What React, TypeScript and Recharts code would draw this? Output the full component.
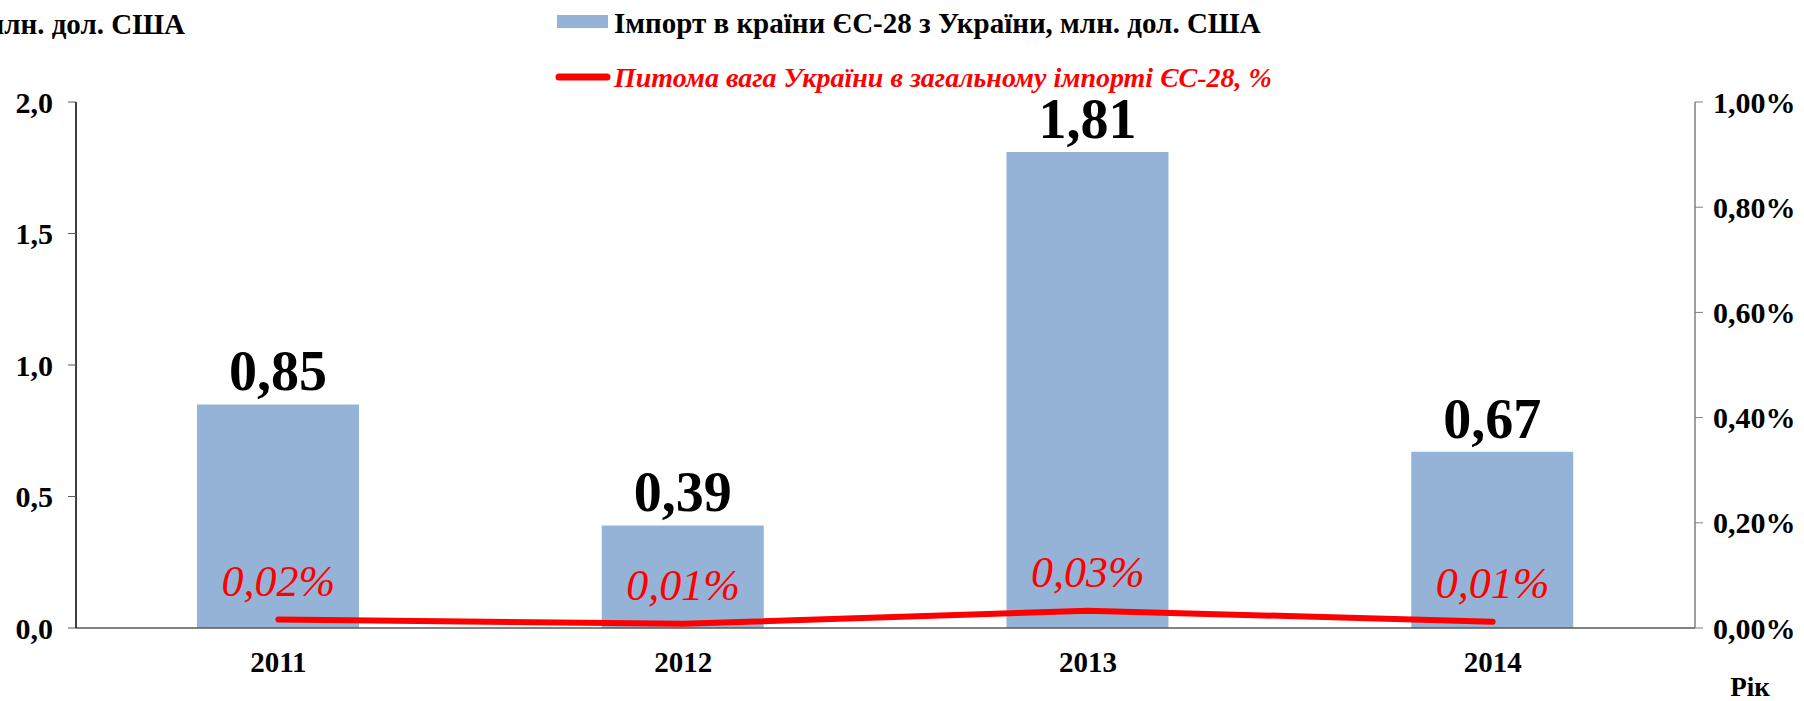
import React from "react";
import {
  Bar,
  ComposedChart,
  LabelList,
  Line,
  XAxis,
  YAxis,
} from "recharts";

// Data
const years = ["2011", "2012", "2013", "2014"];
const importValues = [0.85, 0.39, 1.81, 0.67]; // млн. дол. США
const sharePct = [0.016, 0.008, 0.033, 0.012]; // % of EU-28 import
const leftTicks = [0, 0.5, 1, 1.5, 2];
const rightTicks = [0, 0.2, 0.4, 0.6, 0.8, 1];
const edgeTicks = [0, 1, 2, 3, 4];

const W = 1804;
const H = 701;
const FONT = "'Liberation Serif', 'Times New Roman', serif";
const BAR_BLUE = "#95B3D7";
const RED = "#FF0000";

const data = years.map((year, i) => ({
  year,
  imp: importValues[i],
  share: sharePct[i],
  edge: i + 0.5,
}));

const comma = (s: string) => s.replace(".", ",");

const tickStyle = { fill: "#000", fontSize: 30, fontWeight: 700, fontFamily: FONT };

export default function App() {
  return (
    <div
      style={{
        position: "fixed",
        top: 0,
        left: 0,
        width: W,
        height: H,
        background: "#fff",
        fontFamily: FONT,
      }}
    >
      <ComposedChart
        width={W}
        height={H}
        data={data}
        margin={{ top: 102, right: 0, bottom: 0, left: 0 }}
        style={{ fontFamily: FONT }}
      >
        {/* boundary ticks between categories, like Excel */}
        <XAxis
          xAxisId="edges"
          type="number"
          dataKey="edge"
          domain={[0, 4]}
          ticks={edgeTicks}
          allowDataOverflow
          height={0}
          axisLine={false}
          tickSize={8}
          tickLine={{ stroke: "#595959", strokeWidth: 1 }}
          tickFormatter={() => ""}
        />
        <XAxis
          xAxisId="cat"
          dataKey="year"
          height={73}
          axisLine={{ stroke: "#595959", strokeWidth: 1.5 }}
          tickLine={false}
          tickSize={8}
          tickMargin={15}
          tick={{ ...tickStyle, fontSize: 29 }}
        />
        <YAxis
          yAxisId="left"
          width={76}
          domain={[0, 2]}
          ticks={leftTicks}
          allowDataOverflow
          axisLine={{ stroke: "#000", strokeWidth: 1.5 }}
          tickLine={{ stroke: "#595959" }}
          tickSize={8}
          tickMargin={15}
          tickFormatter={(v) => comma(Number(v).toFixed(1))}
          tick={tickStyle}
        />
        <YAxis
          yAxisId="right"
          orientation="right"
          width={109}
          domain={[0, 1]}
          ticks={rightTicks}
          allowDataOverflow
          axisLine={{ stroke: "#808080", strokeWidth: 1.5 }}
          tickLine={{ stroke: "#808080" }}
          tickSize={8}
          tickMargin={10}
          tickFormatter={(v) => comma(Number(v).toFixed(2)) + "%"}
          tick={tickStyle}
        />
        <Bar
          xAxisId="cat"
          yAxisId="left"
          dataKey="imp"
          fill={BAR_BLUE}
          barSize={162}
          isAnimationActive={false}
        >
          <LabelList
            dataKey="imp"
            position="top"
            offset={14}
            formatter={(v: any) => comma(Number(v).toFixed(2))}
            style={{ fill: "#000", fontSize: 56, fontWeight: 700, fontFamily: FONT }}
          />
        </Bar>
        <Line
          xAxisId="cat"
          yAxisId="right"
          dataKey="share"
          type="linear"
          stroke={RED}
          strokeWidth={6}
          strokeLinecap="round"
          dot={false}
          activeDot={false}
          isAnimationActive={false}
        >
          <LabelList
            dataKey="share"
            position="top"
            offset={24}
            formatter={(v: any) => comma(Number(v).toFixed(2)) + "%"}
            style={{
              fill: RED,
              fontSize: 44,
              fontStyle: "italic",
              fontWeight: 400,
              fontFamily: FONT,
            }}
          />
        </Line>
      </ComposedChart>

      {/* titles and legend */}
      <svg
        width={W}
        height={H}
        style={{ position: "absolute", top: 0, left: 0, pointerEvents: "none" }}
        fontFamily={FONT}
      >
        <text x={185} y={34} textAnchor="end" fontSize={29} fontWeight={700} fill="#000">
          млн. дол. США
        </text>
        <rect x={557} y={15} width={51} height={13} fill={BAR_BLUE} />
        <text x={614} y={33} fontSize={29} fontWeight={700} fill="#000">
          Імпорт в країни ЄС-28 з України, млн. дол. США
        </text>
        <line
          x1={559}
          y1={77}
          x2={607}
          y2={77}
          stroke={RED}
          strokeWidth={7}
          strokeLinecap="round"
        />
        <text
          x={614}
          y={87}
          fontSize={28}
          fontWeight={700}
          fontStyle="italic"
          fill={RED}
        >
          Питома вага України в загальному імпорті ЄС-28, %
        </text>
        <text x={1750} y={696} textAnchor="middle" fontSize={27} fontWeight={700} fill="#000">
          Рік
        </text>
      </svg>
    </div>
  );
}
